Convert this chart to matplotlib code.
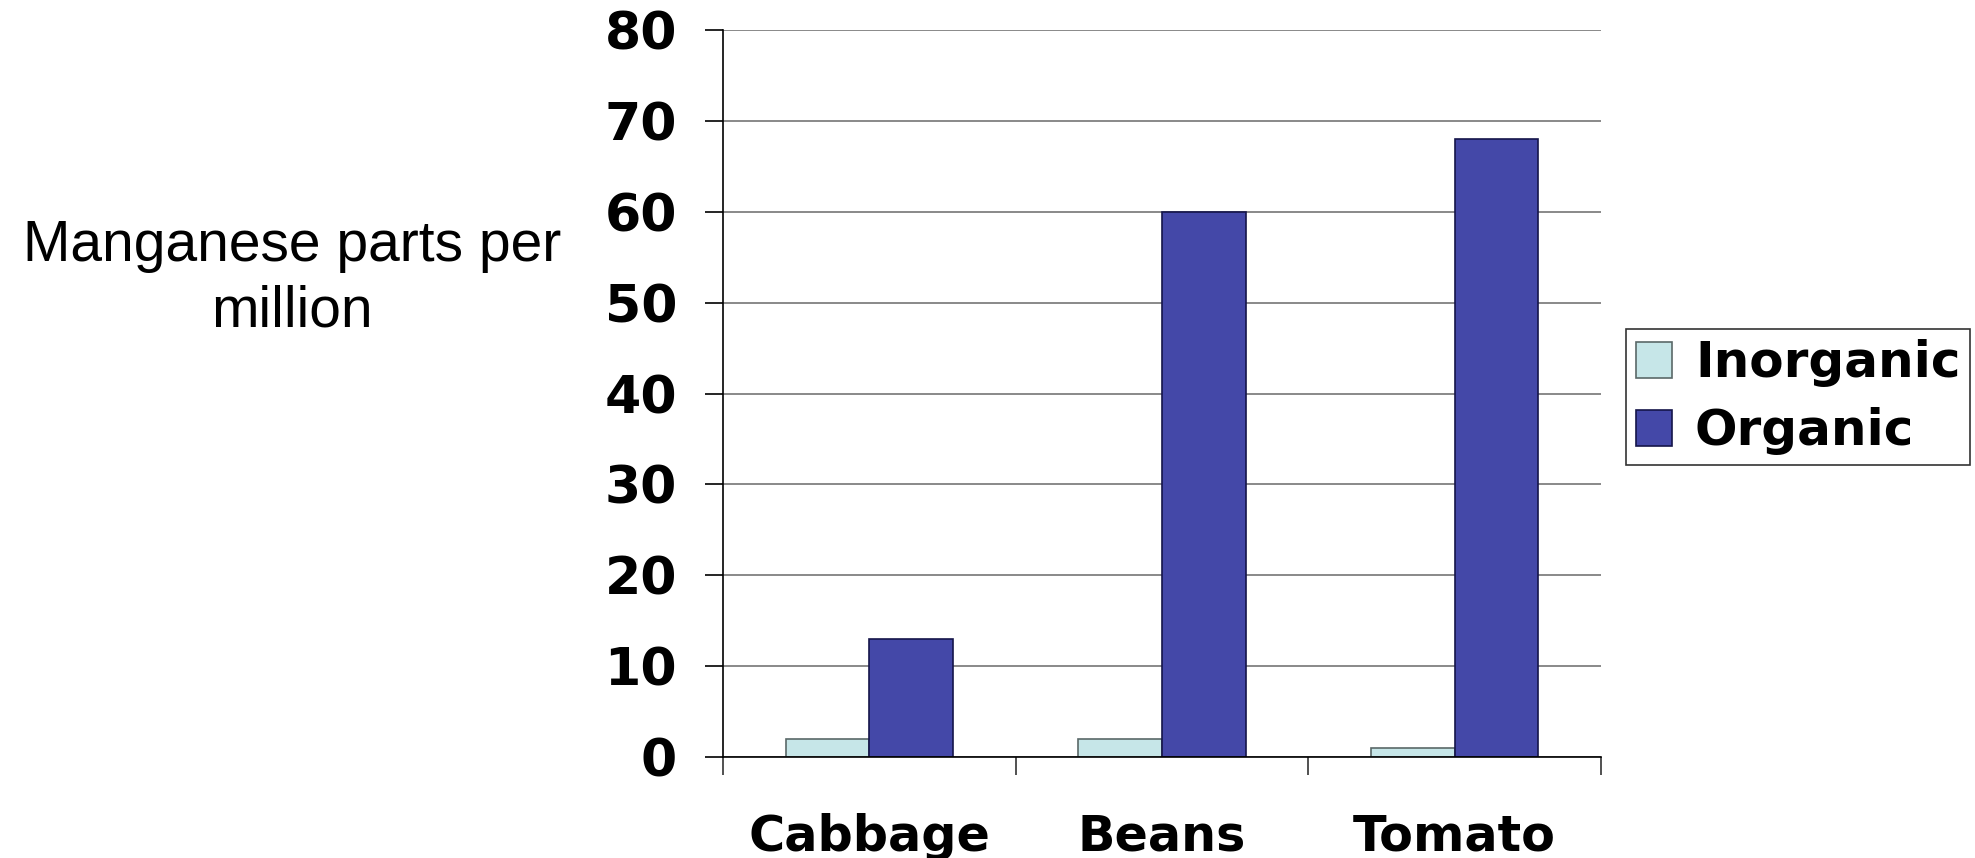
"""
Manganese content in vegetables grown with inorganic vs organic fertiliser.
Clustered bar chart, two series per vegetable.
"""
import matplotlib
matplotlib.use("Agg")
import matplotlib.pyplot as plt
import numpy as np

# data
categories = ["Cabbage", "Beans", "Tomato"]
inorganic = [2, 2, 1]
organic = [13, 60, 68]
y_ticks = [0, 10, 20, 30, 40, 50, 60, 70, 80]

COLORS = {
    "Inorganic": ("#C6E6E8", "#5A6868"),   # pale cyan, grey edge
    "Organic":   ("#4448A8", "#15154A"),   # blue-violet, dark edge
}

fig = plt.figure(figsize=(19.75, 8.58), dpi=100)
ax = fig.add_axes([0.366, 0.1177, 0.4446, 0.847])

x = np.arange(len(categories))
width = 1 / 3.5   # Excel gap width 150%
ax.bar(x - width / 2, inorganic, width, color=COLORS["Inorganic"][0],
       edgecolor=COLORS["Inorganic"][1], linewidth=1.2, label="Inorganic", zorder=3)
ax.bar(x + width / 2, organic, width, color=COLORS["Organic"][0],
       edgecolor=COLORS["Organic"][1], linewidth=1.2, label="Organic", zorder=3)

ax.set_xlim(-0.5, len(categories) - 0.5)
ax.set_ylim(0, 80)

# category labels centred, ticks on the category boundaries
ax.set_xticks(x)
ax.set_xticklabels(categories, family="DejaVu Sans", weight="bold", size=35.5)
ax.tick_params(axis="x", which="major", length=0, pad=40)
ax.set_xticks(np.arange(-0.5, len(categories)), minor=True)
ax.tick_params(axis="x", which="minor", length=13, width=1.2, color="#333333", direction="out")

ax.set_yticks(y_ticks)
ax.set_yticklabels([str(t) for t in y_ticks], family="DejaVu Sans", weight="bold", size=37.5)
ax.tick_params(axis="y", length=13, width=1.2, direction="out", pad=20)

ax.grid(axis="y", color="#808080", linewidth=1.3, zorder=0)
ax.set_axisbelow(True)
for side in ("top", "right"):
    ax.spines[side].set_visible(False)
for side in ("left", "bottom"):
    ax.spines[side].set_color("black")
    ax.spines[side].set_linewidth(1.2)
    ax.spines[side].set_zorder(4)

fig.text(0.148, 0.675, "Manganese parts per\nmillion", ha="center", va="center",
         family="Liberation Sans", fontsize=41, linespacing=1.27)

leg = fig.legend(loc="center left", bbox_to_anchor=(0.8235, 0.537),
                 prop=dict(family="DejaVu Sans", weight="bold", size=36),
                 frameon=True, fancybox=False, edgecolor="black",
                 handlelength=0.72, handleheight=0.72, handletextpad=0.45,
                 labelspacing=0.4, borderpad=0.2, borderaxespad=0)
leg.get_frame().set_linewidth(1.2)

fig.savefig("out.png", dpi=100)
